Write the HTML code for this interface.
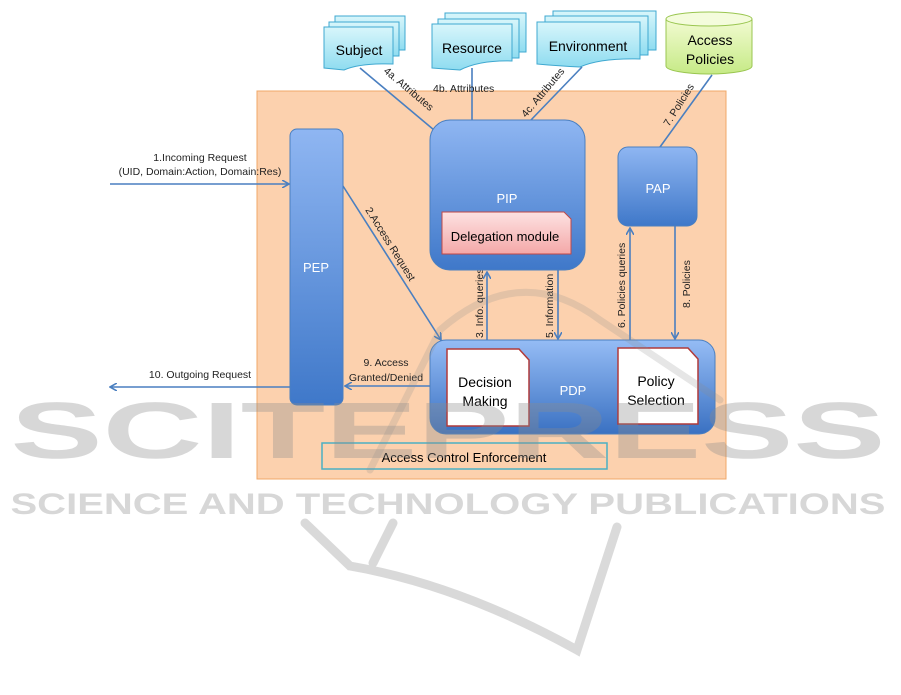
<!DOCTYPE html>
<html><head><meta charset="utf-8"><style>
body{margin:0;background:#fff;width:901px;height:690px;overflow:hidden}
svg text{font-family:"Liberation Sans",sans-serif}
</style></head><body>
<svg width="901" height="690" viewBox="0 0 901 690" xmlns="http://www.w3.org/2000/svg">
<defs>
<linearGradient id="blue" x1="0" y1="0" x2="0" y2="1"><stop offset="0" stop-color="#8fb6f2"/><stop offset="1" stop-color="#3f78c9"/></linearGradient>
<linearGradient id="blueH" x1="0" y1="0" x2="0" y2="1"><stop offset="0" stop-color="#95bcf5"/><stop offset="1" stop-color="#3a71c2"/></linearGradient>
<linearGradient id="cyan" x1="0" y1="0" x2="0" y2="1"><stop offset="0" stop-color="#d8f6fb"/><stop offset="1" stop-color="#8fdcf0"/></linearGradient>
<linearGradient id="green" x1="0" y1="0" x2="0" y2="1"><stop offset="0" stop-color="#f2fbd2"/><stop offset="1" stop-color="#c6ea86"/></linearGradient>
<linearGradient id="pink" x1="0" y1="0" x2="0" y2="1"><stop offset="0" stop-color="#fde2e2"/><stop offset="1" stop-color="#f4a8a8"/></linearGradient>
<marker id="ah" markerWidth="8" markerHeight="8" refX="7" refY="4" orient="auto" markerUnits="userSpaceOnUse"><path d="M0,0 L7,4 L0,8" fill="none" stroke="#4a7fc0" stroke-width="1.6"/></marker>
</defs>

<rect x="257" y="91" width="469" height="388" fill="#fcd1ae" stroke="#f0a868" stroke-width="1"/>

<g stroke="#3fa8d0" stroke-width="1" fill="url(#cyan)">
 <path d="M335,16 H405 V50 H335 Z"/><path d="M329,22 H399 V56 H329 Z"/>
 <path d="M324,27 H393 V64 Q360,63 344,70 Q334,69 324,68 Z"/>
 <path d="M445,13 H526 V52 H445 Z"/><path d="M438,19 H519 V58 H438 Z"/>
 <path d="M432,24 H512 V61 Q480,60 460,70 Q445,69 432,68 Z"/>
 <path d="M553,11 H656 V50 H553 Z"/><path d="M545,16 H648 V55 H545 Z"/>
 <path d="M537,22 H640 V59 Q600,58 580,67 Q560,66 537,64 Z"/>
</g>
<text x="359" y="55" font-size="14" text-anchor="middle">Subject</text>
<text x="472" y="53" font-size="14" text-anchor="middle">Resource</text>
<text x="588" y="51" font-size="14" text-anchor="middle">Environment</text>

<path d="M666,19 V66 A43,8 0 0 0 752,66 V19" fill="url(#green)" stroke="#9ac650"/>
<ellipse cx="709" cy="19" rx="43" ry="7" fill="#f4fcdc" stroke="#9ac650"/>
<text x="710" y="45" font-size="14" text-anchor="middle">Access</text>
<text x="710" y="64" font-size="14" text-anchor="middle">Policies</text>

<g stroke="#4a7fc0" stroke-width="1.6" fill="none">
 <line x1="360" y1="68" x2="434" y2="130"/>
 <line x1="472" y1="68" x2="472" y2="121"/>
 <line x1="582" y1="67" x2="530" y2="121"/>
 <line x1="712" y1="75" x2="660" y2="147"/>
 <line x1="110" y1="184" x2="289" y2="184" marker-end="url(#ah)"/>
 <line x1="343" y1="186" x2="441" y2="340" marker-end="url(#ah)"/>
 <line x1="487" y1="340" x2="487" y2="272" marker-end="url(#ah)"/>
 <line x1="558" y1="270" x2="558" y2="339" marker-end="url(#ah)"/>
 <line x1="630" y1="340" x2="630" y2="228" marker-end="url(#ah)"/>
 <line x1="675" y1="226" x2="675" y2="339" marker-end="url(#ah)"/>
 <line x1="430" y1="386" x2="345" y2="386" marker-end="url(#ah)"/>
 <line x1="290" y1="387" x2="110" y2="387" marker-end="url(#ah)"/>
</g>
<g font-size="10.5" fill="#222">
 <text transform="translate(383,72) rotate(40)">4a. Attributes</text>
 <text x="433" y="92">4b. Attributes</text>
 <text transform="translate(526,118) rotate(-50)">4c. Attributes</text>
 <text transform="translate(669,127) rotate(-58)">7. Policies</text>
 <text transform="translate(365,210) rotate(58)">2.Access Request</text>
 <text x="200" y="161" text-anchor="middle">1.Incoming Request</text>
 <text x="200" y="175" text-anchor="middle">(UID, Domain:Action, Domain:Res)</text>
 <text transform="translate(483,338) rotate(-90)">3. Info. queries</text>
 <text transform="translate(553,338) rotate(-90)">5. Information</text>
 <text transform="translate(625,328) rotate(-90)">6. Policies queries</text>
 <text transform="translate(690,308) rotate(-90)">8. Policies</text>
 <text x="386" y="366" text-anchor="middle">9. Access</text>
 <text x="386" y="381" text-anchor="middle">Granted/Denied</text>
 <text x="200" y="378" text-anchor="middle">10. Outgoing Request</text>
</g>

<rect x="290" y="129" width="53" height="276" rx="7" fill="url(#blue)" stroke="#4a7fc0"/>
<text x="316" y="272" font-size="13" fill="#fff" text-anchor="middle">PEP</text>
<rect x="430" y="120" width="155" height="150" rx="20" fill="url(#blue)" stroke="#4a7fc0"/>
<text x="507" y="203" font-size="13" fill="#fff" text-anchor="middle">PIP</text>
<path d="M442,212 H564 L571,219 V254 H442 Z" fill="url(#pink)" stroke="#c04848"/>
<text x="505" y="241" font-size="13" text-anchor="middle">Delegation module</text>
<rect x="618" y="147" width="79" height="79" rx="10" fill="url(#blue)" stroke="#4a7fc0"/>
<text x="658" y="193" font-size="13" fill="#fff" text-anchor="middle">PAP</text>
<rect x="430" y="340" width="285" height="94" rx="16" fill="url(#blueH)" stroke="#4a7fc0"/>
<text x="573" y="395" font-size="13" fill="#fff" text-anchor="middle">PDP</text>
<path d="M447,349 H519 L529,360 V426 H447 Z" fill="#fff" stroke="#b03a3a" stroke-width="1.5"/>
<text x="485" y="387" font-size="14" text-anchor="middle">Decision</text>
<text x="485" y="406" font-size="14" text-anchor="middle">Making</text>
<path d="M618,348 H688 L698,359 V424 H618 Z" fill="#fff" stroke="#b03a3a" stroke-width="1.5"/>
<text x="656" y="386" font-size="14" text-anchor="middle">Policy</text>
<text x="656" y="405" font-size="14" text-anchor="middle">Selection</text>
<rect x="322" y="443" width="285" height="26" fill="none" stroke="#4bb0c4" stroke-width="1.5"/>
<text x="464" y="462" font-size="13" text-anchor="middle">Access Control Enforcement</text>

<g opacity="0.34" fill="#8c8c8c">
 <text x="448" y="458" font-size="80" font-weight="bold" text-anchor="middle" textLength="875" lengthAdjust="spacingAndGlyphs">SCITEPRESS</text>
 <text x="448" y="514" font-size="30" font-weight="bold" text-anchor="middle" textLength="875" lengthAdjust="spacingAndGlyphs">SCIENCE AND TECHNOLOGY PUBLICATIONS</text>
</g>
<g opacity="0.32" fill="none" stroke="#8c8c8c" stroke-width="9" stroke-linecap="round">
 <path d="M305,523 L350,566 Q460,585 577,650 L617,527"/>
 <path d="M393,523 L373,563"/>
</g>
<g opacity="0.22" fill="none" stroke="#8c8c8c" stroke-width="7" stroke-linecap="round">
 <path d="M370,470 L440,330 Q520,260 600,320 L720,400"/>
</g>
</svg>
</body></html>
